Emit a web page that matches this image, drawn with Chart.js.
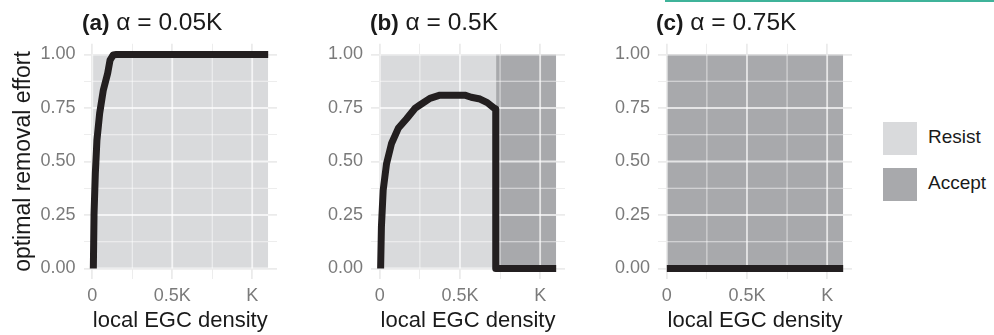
<!DOCTYPE html>
<html>
<head>
<meta charset="utf-8">
<script src="https://cdn.jsdelivr.net/npm/chart.js@4.4.1/dist/chart.umd.min.js"></script>
<style>
  body { margin: 0; background: #fff; width: 994px; height: 335px; position: relative; overflow: hidden;
         font-family: "Liberation Sans", Arial, sans-serif; }
  canvas { position: absolute; top: 0; }
  .ttl { position: absolute; top: 11px; font-size: 24.5px; line-height: 22px; color: #1a1a1a; white-space: nowrap; }
  .ttl b { font-size: 22.5px; }
  .key { position: absolute; left: 883px; width: 34px; height: 33px; }
  .lab { position: absolute; left: 928px; font-size: 19px; line-height: 20px; color: #1a1a1a; }
  .topline { position: absolute; left: 665px; top: 0; width: 329px; height: 2px; background: #3fb39a; }
</style>
</head>
<body>
<div class="topline"></div>
<canvas id="pa" width="290" height="335" style="left:0px"></canvas>
<canvas id="pb" width="290" height="335" style="left:290px"></canvas>
<canvas id="pc" width="290" height="335" style="left:580px"></canvas>
<div class="ttl" style="left:82px"><b>(a)</b> α = 0.05K</div>
<div class="ttl" style="left:370px"><b>(b)</b> α = 0.5K</div>
<div class="ttl" style="left:656px"><b>(c)</b> α = 0.75K</div>
<div class="key" style="top:122px;background:#d9dadc"></div>
<div class="key" style="top:168px;background:#a8a9ac"></div>
<div class="lab" style="top:127px">Resist</div>
<div class="lab" style="top:173px">Accept</div>
<script>
// local EGC density (in units of K) and optimal removal effort
const densityA = [0.0065, 0.011, 0.019, 0.029, 0.046, 0.069, 0.096, 0.111, 0.131, 0.15, 1.1];
const effortA  = [0, 0.258, 0.445, 0.60, 0.725, 0.834, 0.912, 0.974, 0.998, 1, 1];

const densityB = [0.005, 0.01, 0.021, 0.042, 0.073, 0.115, 0.167, 0.219, 0.25, 0.3125, 0.375, 0.45, 0.53, 0.57, 0.625, 0.67, 0.708, 0.723, 0.723, 1.1];
const effortB  = [0, 0.195, 0.366, 0.49, 0.584, 0.655, 0.70, 0.748, 0.764, 0.795, 0.81, 0.81, 0.81, 0.80, 0.792, 0.775, 0.752, 0.745, 0, 0];

const densityC = [0, 1.1];
const effortC  = [0, 0];

// strategy regions along density: [from, to] or null
const resistA = [0, 1.1],  acceptA = null;
const resistB = [0, 0.725], acceptB = [0.725, 1.1];
const resistC = null,       acceptC = [0, 1.1];

const xTicks = [0, 0.25, 0.5, 0.75, 1];
const xLabels = { 0: '0', 0.5: '0.5K', 1: 'K' };
const xMajor = [0, 0.5, 1];
const yTicks = [0, 0.125, 0.25, 0.375, 0.5, 0.625, 0.75, 0.875, 1];
const yMajor = [0, 0.25, 0.5, 0.75, 1];
const xMax = 1.1;

const FONT = '"Liberation Sans", Arial, sans-serif';
const isMajor = (v, list) => list.some(m => Math.abs(m - v) < 1e-9);

// redraw grid lines lightly over the grey strategy regions, under the curve
const gridOverRegions = {
  id: 'gridOverRegions',
  beforeDatasetDraw(chart, args) {
    if (args.index !== 0) return;
    const { ctx, chartArea } = chart;
    const xs = chart.scales.x, ys = chart.scales.y;
    const l = xs.getPixelForValue(0), r = xs.getPixelForValue(xMax);
    const t = ys.getPixelForValue(1), b = ys.getPixelForValue(0);
    ctx.save();
    ctx.beginPath();
    ctx.rect(l, t, r - l, b - t);
    ctx.clip();
    ctx.strokeStyle = 'rgba(255,255,255,0.7)';
    xTicks.forEach(v => {
      const p = xs.getPixelForValue(v);
      ctx.lineWidth = isMajor(v, xMajor) ? 1.8 : 0.9;
      ctx.beginPath(); ctx.moveTo(p, chartArea.top); ctx.lineTo(p, chartArea.bottom); ctx.stroke();
    });
    yTicks.forEach(v => {
      const p = ys.getPixelForValue(v);
      ctx.lineWidth = isMajor(v, yMajor) ? 1.8 : 0.9;
      ctx.beginPath(); ctx.moveTo(chartArea.left, p); ctx.lineTo(chartArea.right, p); ctx.stroke();
    });
    ctx.restore();
  }
};

function region(range, color) {
  return {
    data: [{ x: range[0], y: 1 }, { x: range[1], y: 1 }],
    borderWidth: 0, pointRadius: 0, fill: 'origin', backgroundColor: color, order: 2
  };
}

function makePanel(id, dens, eff, resist, accept, axisW, padRight, showTitle) {
  const datasets = [{
    data: dens.map((d, i) => ({ x: d, y: eff[i] })),
    borderColor: '#231f20', borderWidth: 7, pointRadius: 0, tension: 0,
    borderJoinStyle: 'round', borderCapStyle: 'butt', fill: false, order: 0
  }];
  if (resist) datasets.push(region(resist, '#d9dadc'));
  if (accept) datasets.push(region(accept, '#a8a9ac'));

  new Chart(document.getElementById(id), {
    type: 'line',
    data: { datasets },
    plugins: [gridOverRegions],
    options: {
      responsive: false, animation: false, devicePixelRatio: 1,
      layout: { padding: { top: 43.8, right: padRight, bottom: 0, left: 0 } },
      plugins: { legend: { display: false }, tooltip: { enabled: false } },
      scales: {
        x: {
          type: 'linear', min: -0.055, max: 1.155,
          afterBuildTicks: s => { s.ticks = xTicks.map(v => ({ value: v })); },
          afterFit: s => { s.height = 55.8; },
          grid: { color: '#ebebeb', drawTicks: false,
                  lineWidth: c => isMajor(c.tick.value, xMajor) ? 1.8 : 0.9 },
          border: { display: false },
          ticks: { padding: 6, autoSkip: false, maxRotation: 0, color: '#7a7a7a',
                   font: { family: FONT, size: 18 },
                   callback: v => xLabels[v] !== undefined ? xLabels[v] : '' },
          title: { display: true, text: 'local EGC density', color: '#1a1a1a',
                   font: { family: FONT, size: 22 }, padding: { top: 0, bottom: 1 } }
        },
        y: {
          type: 'linear', min: -0.05, max: 1.05,
          afterBuildTicks: s => { s.ticks = yTicks.map(v => ({ value: v })); },
          afterFit: s => { s.width = axisW; },
          grid: { color: '#ebebeb', drawTicks: false,
                  lineWidth: c => isMajor(c.tick.value, yMajor) ? 1.8 : 0.9 },
          border: { display: false },
          ticks: { padding: 8, autoSkip: false, color: '#7a7a7a',
                   font: { family: FONT, size: 18 },
                   callback: v => isMajor(v, yMajor) ? v.toFixed(2) : '' },
          title: { display: showTitle, text: 'optimal removal effort', color: '#1a1a1a',
                   font: { family: FONT, size: 23 }, padding: { top: 10, bottom: 0 } }
        }
      }
    }
  });
}

makePanel('pa', densityA, effortA, resistA, acceptA, 83.5, 13, true);
makePanel('pb', densityB, effortB, resistB, acceptB, 81, 15, false);
makePanel('pc', densityC, effortC, resistC, acceptC, 78, 18, false);
</script>
</body>
</html>
